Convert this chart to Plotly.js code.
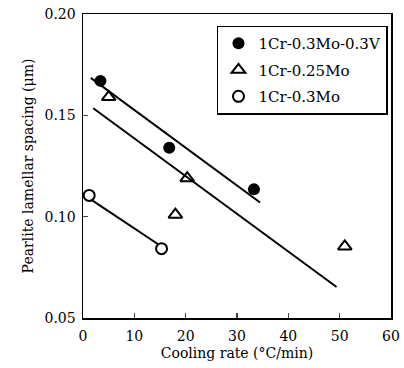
<!DOCTYPE html>
<html>
<head>
<meta charset="utf-8">
<script src="https://cdn.plot.ly/plotly-3.0.1.min.js"></script>
<style>html,body{margin:0;padding:0;background:#fff;}#chart{width:404px;height:368px;}</style>
</head>
<body>
<div id="chart"></div>
<script>
// Data points
var vX = [3.4, 16.8, 33.3];
var vY = [0.167, 0.134, 0.1135];
var moA_X = [5.0, 18.0, 20.3, 51.0];
var moA_Y = [0.159, 0.101, 0.119, 0.0853];
var moB_X = [1.2, 15.3];
var moB_Y = [0.1105, 0.0842];
// Fit line endpoints
var vFitX = [1.5, 34.5];
var vFitY = [0.1685, 0.107];
var moAFitX = [2.0, 49.4];
var moAFitY = [0.1535, 0.0653];
var moBFitX = [1.5, 15.3];
var moBFitY = [0.1085, 0.0853];
var names = ['1Cr-0.3Mo-0.3V', '1Cr-0.25Mo', '1Cr-0.3Mo'];

var F = 'DejaVu Serif, Liberation Serif, serif';
var lineStyle = {color: '#000', width: 2};
var traces = [
  {x: vFitX, y: vFitY, mode: 'lines', line: lineStyle, showlegend: false, hoverinfo: 'skip'},
  {x: moAFitX, y: moAFitY, mode: 'lines', line: lineStyle, showlegend: false, hoverinfo: 'skip'},
  {x: moBFitX, y: moBFitY, mode: 'lines', line: lineStyle, showlegend: false, hoverinfo: 'skip'},
  {x: vX, y: vY, mode: 'markers', name: names[0], legendgroup: 'a',
   marker: {symbol: 'circle', size: 12, color: '#000'}},
  {x: moA_X, y: moA_Y, mode: 'markers', name: names[1], legendgroup: 'b',
   marker: {symbol: 'triangle-up-open', size: 12, color: '#000', line: {width: 2, color: '#000'}}},
  {x: moB_X, y: moB_Y, mode: 'markers', name: names[2], legendgroup: 'c',
   marker: {symbol: 'circle', size: 11, color: '#fff', line: {width: 2, color: '#000'}}}
];

var layout = {
  width: 404, height: 368,
  margin: {l: 83, r: 13, t: 14, b: 50},
  paper_bgcolor: '#fff', plot_bgcolor: '#fff',
  font: {family: F, size: 14, color: '#000'},
  showlegend: true,
  legend: {x: 0.435, y: 0.962, xanchor: 'left', yanchor: 'top',
    bordercolor: '#000', borderwidth: 1.5, bgcolor: '#fff',
    traceorder: 'grouped', tracegroupgap: 4,
    font: {family: F, size: 15, color: '#000'}},
  xaxis: {range: [0, 60], tickvals: [0,10,20,30,40,50,60], ticks: 'inside', ticklen: 5,
    tickwidth: 1.5, showline: true, linewidth: 1.5, linecolor: '#000', mirror: true,
    showgrid: false, zeroline: false, tickfont: {family: F, size: 14}, ticklabelstandoff: 5,
    title: {text: 'Cooling rate (°C/min)', font: {family: F, size: 14}, standoff: 5}},
  yaxis: {range: [0.05, 0.20], tickvals: [0.05, 0.10, 0.15, 0.20], ticktext: ['0.05','0.10','0.15','0.20'],
    ticks: 'inside', ticklen: 5, tickwidth: 1.5, ticklabelstandoff: 3,
    showline: true, linewidth: 1.5, linecolor: '#000', mirror: true,
    showgrid: false, zeroline: false, tickfont: {family: F, size: 14},
    title: {text: 'Pearlite lamellar spacing (μm)', font: {family: F, size: 14}, standoff: 7}}
};

Plotly.newPlot('chart', traces, layout, {displayModeBar: false, staticPlot: true});
</script>
</body>
</html>
